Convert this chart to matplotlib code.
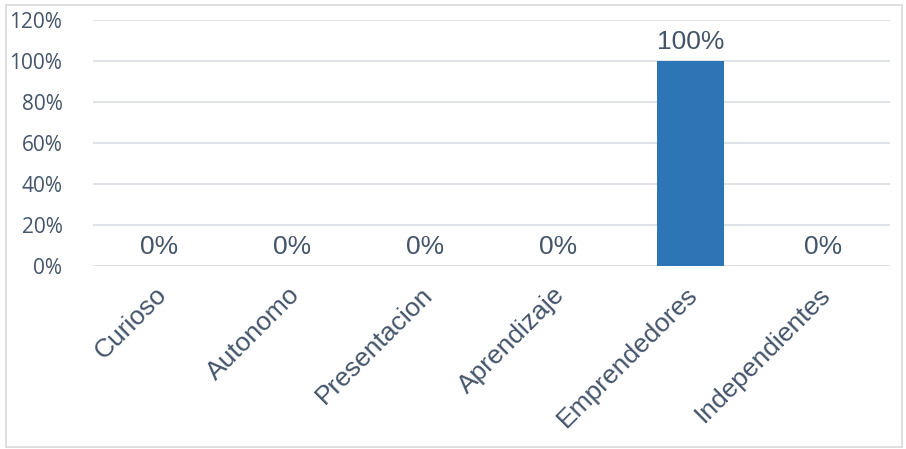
import matplotlib.pyplot as plt
from matplotlib.patches import Rectangle
from matplotlib.ticker import PercentFormatter
from matplotlib.transforms import ScaledTranslation

# categories and values (fractions)
categorias = ['Curioso', 'Autonomo', 'Presentacion', 'Aprendizaje', 'Emprendedores', 'Independientes']
valores = [0.0, 0.0, 0.0, 0.0, 1.0, 0.0]
yticks = [0, 0.2, 0.4, 0.6, 0.8, 1.0, 1.2]

texto = '#44546A'
azul = '#2E75B6'
rejilla = '#D9DDE3'

fig = plt.figure(figsize=(9.06, 4.49), dpi=100)
ax = fig.add_axes([0.1026, 0.4076, 0.8794, 0.548])

x = list(range(len(categorias)))
bars = ax.bar(x, valores, width=0.5, color=azul, zorder=3)

for xi, v in zip(x, valores):
    ax.annotate(f'{v:.0%}', (xi, v), xytext=(0, 5), textcoords='offset points',
                ha='center', va='bottom', fontsize=19, color=texto,
                family=['Liberation Sans', 'DejaVu Sans'])

ax.set_xlim(-0.5, len(categorias) - 0.5)
ax.set_ylim(0, 1.2)
ax.set_yticks(yticks)
ax.yaxis.set_major_formatter(PercentFormatter(1.0, decimals=0))
ax.set_xticks(x)
ax.set_xticklabels(categorias, rotation=45, ha='right', rotation_mode='anchor',
                   fontsize=19, color=texto, family=['Liberation Sans', 'DejaVu Sans'])
ax.tick_params(axis='x', length=0, pad=12)
ax.tick_params(axis='y', length=0, pad=22, labelsize=15, labelcolor=texto)
for lab in ax.get_yticklabels():
    lab.set_family(['Open Sans', 'DejaVu Sans'])
# nudge the slanted labels a bit to the left
shift = ScaledTranslation(-5 / 100, 0, fig.dpi_scale_trans)
for lab in ax.get_xticklabels():
    lab.set_transform(lab.get_transform() + shift)

ax.grid(axis='y', color=rejilla, linewidth=1.2, zorder=0)
for s in ax.spines.values():
    s.set_visible(False)

# border around the whole chart
fig.patches.append(Rectangle((0.0066, 0.0045), 0.989, 0.984, transform=fig.transFigure,
                             fill=False, edgecolor='#D9D9D9', linewidth=1.2))

fig.savefig('out.png', dpi=100)
